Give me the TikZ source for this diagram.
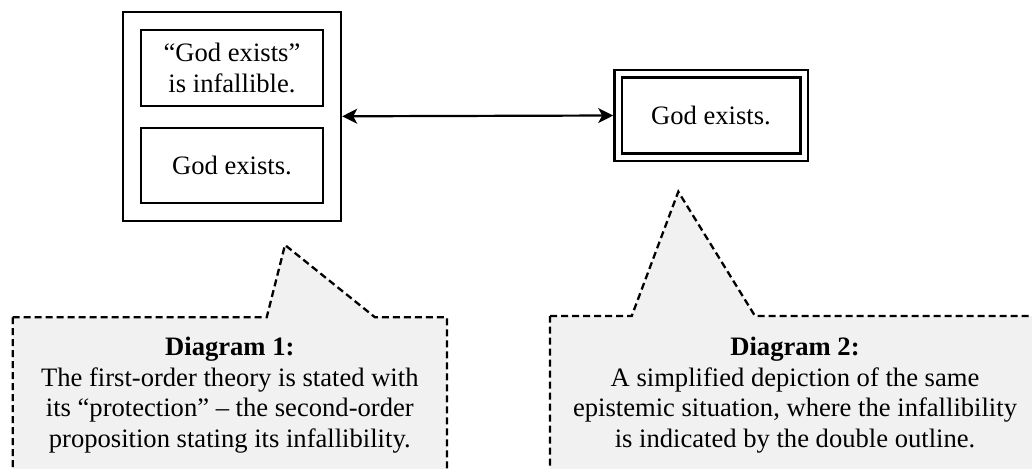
\documentclass[tikz,border=0pt]{standalone}
\usepackage{fontspec}
\setmainfont{Liberation Serif}
\usetikzlibrary{arrows.meta}

\definecolor{calloutfill}{HTML}{F1F1F1}

\tikzset{
  txt/.style={font=\fontsize{26.6}{30.5}\selectfont, align=center},
  box/.style={draw, line width=2.4pt, inner sep=0pt, txt},
  dblbox/.style={draw, line width=2.3pt, double, double distance=5pt,
                 inner sep=0pt, outer sep=4.8pt, txt},
  callout/.style={draw, fill=calloutfill, line width=2.3pt,
                  dash pattern=on 7pt off 4pt},
  link/.style={line width=2.2pt, {Stealth[length=15pt,width=15pt,inset=4pt]}-{Stealth[length=15pt,width=15pt,inset=4pt]}}
}

\begin{document}
\begin{tikzpicture}[x=1pt,y=-1pt]
  \useasboundingbox (0,0) rectangle (1032,468);
  \clip (0,0) rectangle (1032,468);

  % Diagram 1: nested boxes
  \node[box, minimum width=218pt, minimum height=209pt] (outer) at (232,116.3) {};
  \node[box, minimum width=182pt, minimum height=76pt] (meta) at (232,68)
    {“God exists”\\is infallible.};
  \node[box, minimum width=182pt, minimum height=75pt] (base) at (232,165.7)
    {God exists.};

  % Diagram 2: double outline
  \node[dblbox, minimum width=186pt, minimum height=83pt] (dbl) at (711,115.5)
    {God exists.};

  \draw[link] (outer.east) -- (dbl.west);

  % Callouts
  \draw[callout] (12.7,317.3) -- (266.7,317.3) -- (285,245) -- (375,317.3)
    -- (447,317.3) -- (447,500) -- (12.7,500) -- cycle;
  \node[txt] (cap1) at (229.8,395)
    {\textbf{Diagram 1:}\\The first-order theory is stated with\\its “protection” – the second-order\\proposition stating its infallibility.};

  \draw[callout] (550,316) -- (631.7,316) -- (678.3,191.7) -- (755,316)
    -- (1045,316) -- (1045,500) -- (550,500) -- cycle;
  \node[txt] (cap2) at (795,395)
    {\textbf{Diagram 2:}\\A simplified depiction of the same\\epistemic situation, where the infallibility\\is indicated by the double outline.};
\end{tikzpicture}
\end{document}
